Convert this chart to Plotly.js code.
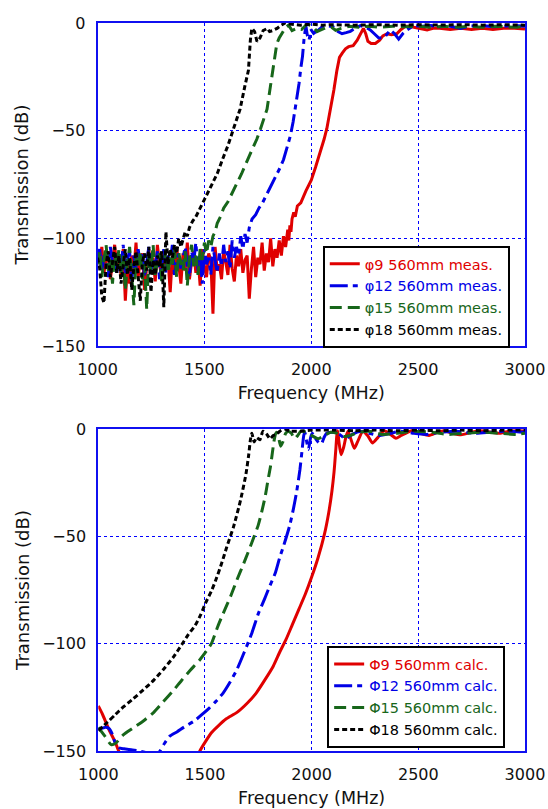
<!DOCTYPE html>
<html>
<head>
<meta charset="utf-8">
<script src="https://cdn.plot.ly/plotly-3.0.1.min.js"></script>
<style>html,body{margin:0;padding:0;background:#fff;}#chart{width:548px;height:809px;}</style>
</head>
<body>
<div id="chart"></div>
<script>
// ---------- Measured (top panel) ----------
const measRedFreq = [1000,1010,1020,1030,1040,1050,1060,1070,1080,1090,1100,1110,1120,1130,1140,1150,1160,1170,1180,1190,1200,1210,1220,1230,1240,1250,1260,1270,1280,1290,1300,1310,1320,1330,1340,1350,1360,1370,1380,1390,1400,1410,1420,1430,1440,1450,1460,1470,1480,1490,1500,1510,1520,1530,1540,1550,1560,1570,1580,1590,1600,1610,1620,1630,1640,1650,1660,1670,1680,1690,1700,1710,1720,1730,1740,1750,1760,1770,1780,1790,1800,1810,1820,1830,1840,1850,1860,1870,1880,
  1890,1895,1900,1905,1910,1918,1925,1935,1951,1975,2000,2020,2040,2060,2073,2090,2106,2120,2132,2145,2160,2175,2196,2215,2230,2244,2255,2265,2280,2300,2320,2335,2354,2375,2400,2420,2440,2460,2480,2500,2520,2542,2570,2600,2650,2700,2750,2800,2850,2900,2950,3000];
const measRedDb = [-108,-112,-104,-116,-110,-106,-119,-111,-103,-114,-109,-117,-105,-129,-112,-121,-108,-115,-102,-118,-110,-107,-124,-113,-105,-116,-109,-120,-103,-112,-118,-106,-114,-110,-125,-108,-117,-104,-113,-121,-107,-115,-102,-119,-111,-106,-116,-109,-122,-105,-113,-118,-107,-110,-135,-104,-115,-112,-119,-106,-111,-117,-103,-114,-120,-108,-113,-105,-116,-110,-108,-128,-114,-104,-118,-109,-112,-102,-115,-107,-111,-100,-113,-105,-109,-101,-108,-99,-104,
  -96,-101,-94,-97,-91,-88,-90,-85,-83.5,-78,-73,-67,-61,-54,-49,-40,-31,-22,-16,-14,-12,-11,-10.5,-8,-5,-2.5,-5,-8.5,-9.5,-9.5,-8,-6,-5,-5.5,-5,-3,-1.5,-1.5,-2,-2.5,-3,-3.2,-2.5,-2.5,-3,-2.5,-3,-2.5,-3,-2.5,-2.5,-2.8];

const measBlueFreq = [1000,1010,1020,1030,1040,1050,1060,1070,1080,1090,1100,1110,1120,1130,1140,1150,1160,1170,1180,1190,1200,1210,1220,1230,1240,1250,1260,1270,1280,1290,1300,1310,1320,1330,1340,1350,1360,1370,1380,1390,1400,1410,1420,1430,1440,1450,1460,1470,1480,1490,1500,1510,1520,1530,1540,1550,1560,1570,1580,1590,1600,1610,1620,1630,1640,
  1650,1660,1670,1680,1690,1700,1710,1723,1740,1755,1772,1790,1804,1820,1837,1855,1870,1885,1902,1915,1927,1935,1943,1951,1959,1967,1975,1982,1990,1998,2011,2034,2055,2074,2105,2125,2144,2163,2183,2205,2230,2255,2276,2295,2315,2330,2347,2360,2370,2390,2409,2428,2448,2479,2520,2560,2600,2650,2700,2740,2800,2850,2900,2950,3000];
const measBlueDb = [-110,-105,-115,-108,-112,-118,-104,-111,-107,-116,-109,-113,-103,-117,-110,-106,-120,-108,-114,-105,-112,-107,-118,-110,-104,-115,-109,-113,-106,-119,-111,-105,-116,-108,-112,-103,-117,-110,-107,-114,-109,-104,-113,-118,-106,-111,-102,-115,-108,-121,-105,-112,-109,-117,-104,-110,-116,-107,-113,-103,-111,-106,-114,-101,-109,
  -104,-108,-99,-105,-98,-102,-95,-91,-89,-86,-83.5,-80,-77.5,-74.5,-71,-67,-63.5,-58.5,-52.5,-46,-39,-33,-28,-21,-15.5,-6.5,-1.5,-6,-8,-3,-4.8,-3.2,-1.5,-1.2,-1.9,-4,-5,-4.5,-3.9,-2.5,-1.2,-2,-3.2,-5,-6.9,-7,-6.2,-4.5,-3.2,-5,-7.5,-5,-3.2,-1.2,-1.5,-1.2,-1.8,-1.5,-2.5,-1.5,-1.2,-1.8,-1.5,-1.2,-1.5];

const measGreenFreq = [1000,1010,1020,1030,1040,1050,1060,1070,1080,1090,1100,1110,1120,1130,1140,1150,1160,1170,1180,1190,1200,1210,1220,1230,1240,1250,1260,1270,1280,1290,1300,1310,1320,1330,1340,1350,1360,1370,1380,1390,1400,1410,1420,1430,1440,1450,1460,1470,1480,1490,1500,1510,1520,1530,1540,
  1550,1560,1575,1590,1610,1625,1650,1674,1700,1723,1745,1763,1780,1793,1805,1816,1828,1839,1850,1863,1880,1894,1910,1933,1955,1980,2000,2015,2027,2050,2074,2095,2114,2140,2180,2220,2270,2320,2380,2440,2500,2560,2620,2680,2740,2800,2860,2920,2960,3000];
const measGreenDb = [-112,-106,-118,-109,-103,-115,-110,-121,-107,-113,-105,-116,-108,-124,-111,-104,-117,-131,-109,-114,-106,-119,-112,-133,-108,-115,-103,-118,-110,-107,-120,-113,-105,-116,-109,-112,-104,-118,-107,-111,-115,-106,-122,-109,-103,-113,-108,-117,-105,-110,-102,-107,-101,-104,-99,
  -97,-93,-90,-86,-83,-80,-75,-70,-64,-59,-54,-49,-44,-40,-32,-25,-16,-9.5,-7,-4.8,-2,-1,-3.5,-2.5,-3,-0.5,-1.2,-2.5,-4,-3,-1.9,-2,-3.4,-2.5,-1.5,-2,-1.5,-2,-1.5,-1.8,-1.5,-2,-1.5,-2,-1.5,-2,-1.5,-1.8,-2,-1.5];

const measBlackFreq = [1000,1010,1020,1030,1040,1050,1060,1070,1080,1090,1100,1110,1120,1130,1140,1150,1160,1170,1180,1190,1200,1210,1220,1230,1240,1250,1260,1270,1280,1290,1300,1310,1320,1330,1340,1350,1360,1370,1380,1390,
  1400,1410,1420,1430,1445,1460,1480,1500,1530,1560,1590,1610,1640,1667,1690,1706,1715,1722,1735,1746,1760,1775,1795,1805,1820,1840,1860,1878,1900,1950,2000,2050,2100,2200,2300,2400,2500,2600,2700,2800,2900,3000];
const measBlackDb = [-109,-114,-127,-130,-112,-106,-118,-110,-104,-116,-108,-121,-112,-105,-117,-109,-124,-113,-106,-119,-129,-111,-107,-115,-104,-125,-110,-117,-108,-113,-106,-132,-97,-112,-105,-109,-103,-107,-100,-104,
  -100,-97,-99,-95,-92,-90,-86,-82,-76,-70,-62,-57,-48,-40,-29,-22,-8,-2.5,-4,-8.6,-7,-3.5,-2.5,-4,-3.5,-2.5,-1,0,-0.5,-1,-0.5,-1,-0.8,-1,-0.8,-1,-0.8,-1,-0.8,-1,-0.8,-1];

// ---------- Calculated (bottom panel) ----------
const calcRedFreq = [1000,1020,1050,1080,1100,1200,1300,1400,1450,1476,1500,1530,1560,1600,1650,1700,1740,1780,1820,1850,1880,1910,1940,1970,2000,2030,2060,2080,2095,2105,2113,2118,2122,2128,2138,2150,2160,2170,2185,2200,2215,2240,2262,2285,2310,2340,2370,2395,2420,2470,2510,2550,2590,2620,2660,2700,2750,2790,2840,2880,2930,2970,3000];
const calcRedDb = [-129,-133,-140,-146,-151,-165,-170,-163,-156,-150,-146,-141.5,-138.5,-135,-132,-127.5,-123,-117,-110.5,-104,-98,-91,-84,-77,-69,-60,-49,-39,-29,-20,-10,-3,-0.8,-6,-12,-8.5,-4,-1,-5,-9,-6,-1,-3,-6.5,-4,-0.8,-2.5,-4.3,-3,-0.8,-2,-3,-1.5,-0.8,-2,-2.7,-1.5,-0.8,-1.5,-2,-1,-0.8,-1];

const calcBlueFreq = [1000,1030,1050,1065,1080,1095,1120,1160,1190,1230,1260,1289,1310,1336,1370,1400,1450,1492,1520,1550,1585,1617,1650,1684,1720,1750,1780,1800,1830,1850,1870,1897,1915,1930,1945,1955,1963,1968,1975,1985,1995,2003,2015,2030,2045,2058,2070,2100,2130,2160,2190,2230,2270,2320,2370,2420,2480,2540,2600,2680,2760,2840,2920,3000];
const calcBlueDb = [-140,-139,-139.5,-142,-146.5,-148.5,-149,-149.5,-150,-151,-154,-150,-146.5,-143,-141,-139,-136,-132.5,-130,-127,-123,-118,-112,-104,-95,-86,-79,-74,-67,-60,-54,-45,-37,-29,-19,-10,-3,-1.5,-5,-9.5,-4,-2,-4,-6,-7,-4,-2,-1.5,-2.5,-4.5,-2.5,-1,-2,-3,-2,-1,-2,-2.5,-1.5,-1,-2,-1.5,-1,-1.5];

const calcGreenFreq = [1000,1030,1060,1080,1117,1160,1211,1260,1305,1350,1391,1430,1476,1510,1530,1560,1585,1620,1651,1680,1700,1725,1749,1765,1782,1795,1807,1816,1823,1830,1836,1845,1855,1865,1878,1890,1905,1920,1935,1950,1975,2000,2030,2060,2090,2120,2150,2180,2220,2270,2330,2400,2480,2560,2640,2720,2800,2880,2960,3000];
const calcGreenDb = [-139,-143,-147,-146.5,-142.5,-139.5,-136,-132,-127,-122,-117,-112.5,-107.5,-103,-100,-92,-86,-78,-70,-63,-58,-51.5,-45,-39,-31.5,-24,-17.5,-11,-6,-2.5,-1.5,-4,-8,-6,-2,-1,-2,-4.5,-3,-1,-1.5,-3,-4.5,-3,-1.5,-2,-3.5,-3,-1.5,-1,-2.5,-2,-1,-1.5,-2.5,-2,-1.5,-2,-2.5,-2];

const calcBlackFreq = [1000,1044,1080,1117,1160,1211,1260,1305,1350,1391,1420,1454,1480,1503,1530,1552,1580,1602,1634,1667,1692,1705,1713,1720,1730,1742,1757,1772,1790,1805,1820,1835,1851,1872,1900,1950,2000,2100,2200,2300,2400,2500,2600,2700,2800,2900,3000];
const calcBlackDb = [-140.5,-136.5,-133,-129.5,-126,-121.5,-117,-112,-106.5,-100.5,-96,-91.5,-86.5,-81,-75.5,-70,-62,-55,-45.5,-33,-21,-12,-5,-2,-6,-4,-5,-1,-2.5,-4.5,-3,-2.5,-1,0,-1,-1,-0.5,-0.5,-0.8,-0.5,-0.8,-0.5,-0.8,-0.5,-0.8,-0.5,-0.5];

// ---------- Labels ----------
const measNames = ['φ9 560mm meas.','φ12 560mm meas.','φ15 560mm meas.','φ18 560mm meas.'];
const calcNames = ['Φ9 560mm calc.','Φ12 560mm calc.','Φ15 560mm calc.','Φ18 560mm calc.'];
const xTicks = [1000,1500,2000,2500,3000];
const yTicks = [-150,-100,-50,0];
const xTitle = 'Frequency (MHz)';
const yTitle = 'Transmission (dB)';

const colors = ['#e00000','#0000e6','#17661a','#000000'];
const dashes = ['solid','18px,5px,5px,5px','12px,6px','5px,3px'];
const FONT = '"DejaVu Sans", "Noto Sans", sans-serif';

const measF = [measRedFreq, measBlueFreq, measGreenFreq, measBlackFreq];
const measD = [measRedDb, measBlueDb, measGreenDb, measBlackDb];
const calcF = [calcRedFreq, calcBlueFreq, calcGreenFreq, calcBlackFreq];
const calcD = [calcRedDb, calcBlueDb, calcGreenDb, calcBlackDb];

const traces = [];
for (let i = 0; i < 4; i++) {
  traces.push({
    x: measF[i], y: measD[i], type: 'scatter', mode: 'lines',
    xaxis: 'x', yaxis: 'y', legend: 'legend',
    name: '<span style="color:' + colors[i] + '">' + measNames[i] + '</span>',
    line: {color: colors[i], width: 3, dash: dashes[i]}
  });
}
for (let i = 0; i < 4; i++) {
  traces.push({
    x: calcF[i], y: calcD[i], type: 'scatter', mode: 'lines',
    xaxis: 'x2', yaxis: 'y2', legend: 'legend2',
    name: '<span style="color:' + colors[i] + '">' + calcNames[i] + '</span>',
    line: {color: colors[i], width: 3, dash: dashes[i], shape: 'spline', smoothing: 0.6}
  });
}

function xax(domain, anchor) {
  return {
    domain: domain, anchor: anchor, range: [1000, 3000], tickvals: xTicks,
    showgrid: true, gridcolor: '#0000ff', griddash: 'dot', gridwidth: 1,
    showline: true, linecolor: '#1010f0', linewidth: 2, mirror: true,
    zeroline: false, ticks: '', ticklabelstandoff: 8,
    tickfont: {family: FONT, size: 16, color: '#111'},
    title: {text: xTitle, font: {family: FONT, size: 17.5, color: '#111'}, standoff: 9}
  };
}
function yax(domain, anchor) {
  return {
    domain: domain, anchor: anchor, range: [-150, 0], tickvals: yTicks,
    showgrid: true, gridcolor: '#0000ff', griddash: 'dot', gridwidth: 1,
    showline: true, linecolor: '#1010f0', linewidth: 2, mirror: true,
    zeroline: false, ticks: '', ticklabelstandoff: 7,
    tickfont: {family: FONT, size: 16, color: '#111'},
    title: {text: yTitle, font: {family: FONT, size: 18, color: '#111'}, standoff: 8}
  };
}
function leg(x, y) {
  return {
    x: x, y: y, xanchor: 'left', yanchor: 'top',
    bgcolor: '#ffffff', bordercolor: '#000000', borderwidth: 2,
    font: {family: FONT, size: 14.5, color: '#000'}, tracegroupgap: 0
  };
}

const layout = {
  width: 548, height: 809,
  margin: {l: 0, r: 0, t: 0, b: 0},
  paper_bgcolor: '#ffffff', plot_bgcolor: '#ffffff',
  showlegend: true,
  xaxis: xax([0.178, 0.958], 'y'),
  yaxis: yax([0.5723, 0.9716], 'x'),
  xaxis2: xax([0.1794, 0.958], 'y2'),
  yaxis2: yax([0.0717, 0.4697], 'x2'),
  legend: leg(0.589, 0.696),
  legend2: leg(0.597, 0.2015)
};

Plotly.newPlot('chart', traces, layout, {staticPlot: true, displayModeBar: false});
</script>
</body>
</html>
